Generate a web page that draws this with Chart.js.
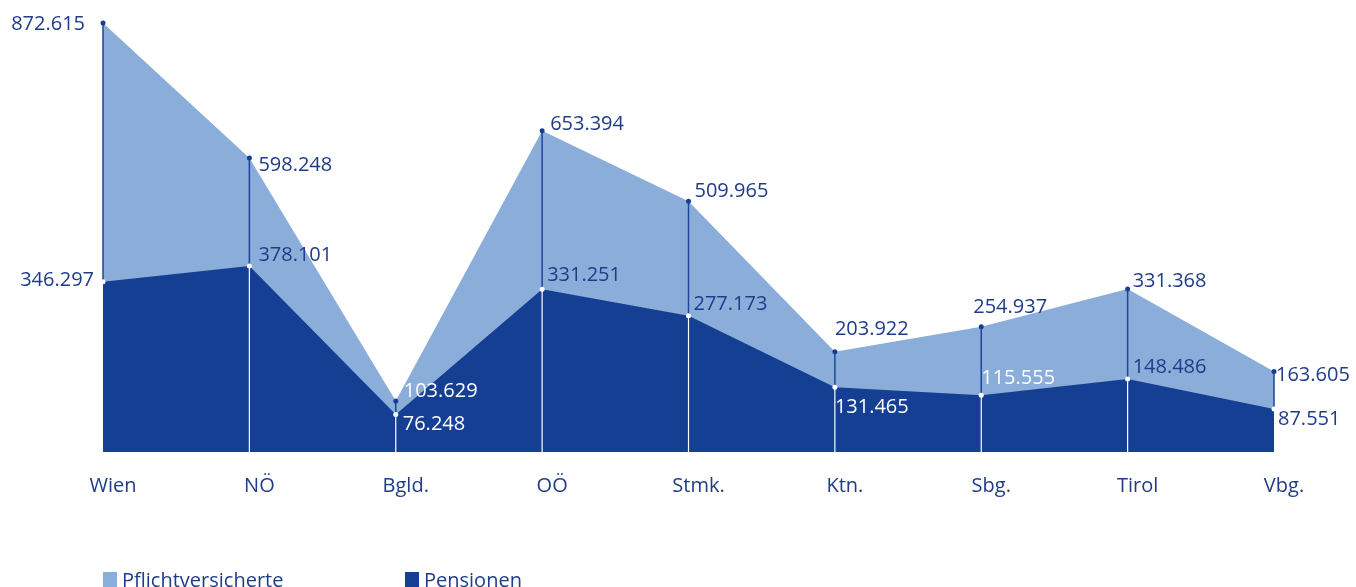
<!DOCTYPE html>
<html>
<head>
<meta charset="utf-8">
<script src="https://cdn.jsdelivr.net/npm/chart.js@4"></script>
<style>
  html, body { margin: 0; padding: 0; background: #fff; overflow: hidden; }
  #wrap { position: relative; width: 1356px; height: 587px; }
  #legend { position: absolute; left: 103px; top: 566px; font: 20px "Open Sans", sans-serif; color: #1f3c88; }
  #legend span.item { position: absolute; white-space: nowrap; display: flex; align-items: center; }
  #legend i { display: inline-block; width: 14px; height: 15px; margin-right: 5px; }
</style>
</head>
<body>
<div id="wrap">
  <canvas id="chart" width="1356" height="587"></canvas>
  <div id="legend"></div>
</div>
<script>
const regions = ["Wien", "NÖ", "Bgld.", "OÖ", "Stmk.", "Ktn.", "Sbg.", "Tirol", "Vbg."];
const pflichtversicherte = [872615, 598248, 103629, 653394, 509965, 203922, 254937, 331368, 163605];
const pensionen = [346297, 378101, 76248, 331251, 277173, 131465, 115555, 148486, 87551];
const yMax = 872615;

const lightBlue = "#8badda";
const darkBlue = "#143f93";
const textBlue = "#1f3c88";

// label placement relative to the point: [dx, dy, align, color]
const topLabelPos = [
  [-18, 1, "right", textBlue], [9, 7, "left", textBlue], [8, -10, "left", "#fff"],
  [8, -6, "left", textBlue], [6, -10, "left", textBlue], [0, -22, "left", textBlue],
  [-8, -19, "left", textBlue], [5, -8, "left", textBlue], [2, 4, "left", textBlue]
];
const lowLabelPos = [
  [-9, -1, "right", textBlue], [9, -11, "left", textBlue], [7, 10, "left", "#fff"],
  [5, -14, "left", textBlue], [5, -11, "left", textBlue], [0, 20, "left", "#fff"],
  [0, -17, "left", "#fff"], [5, -12, "left", textBlue], [4, 10, "left", textBlue]
];

function fmt(v) {
  return String(v).replace(/\B(?=(\d{3})+(?!\d))/g, ".");
}

const markers = {
  id: "markers",
  afterDatasetsDraw(chart) {
    const ctx = chart.ctx;
    const top = chart.getDatasetMeta(0).data;
    const low = chart.getDatasetMeta(1).data;
    const base = chart.scales.y.getPixelForValue(0);
    ctx.save();
    top.forEach((p, i) => {
      const q = low[i];
      ctx.strokeStyle = "#1d4599";
      ctx.lineWidth = 1.5;
      ctx.beginPath();
      ctx.moveTo(p.x, p.y);
      ctx.lineTo(q.x, q.y);
      ctx.stroke();
      if (i > 0 && i < top.length - 1) {
        ctx.strokeStyle = "#ffffff";
        ctx.lineWidth = 1.2;
        ctx.beginPath();
        ctx.moveTo(q.x, q.y);
        ctx.lineTo(q.x, base);
        ctx.stroke();
      }
      ctx.fillStyle = darkBlue;
      ctx.beginPath();
      ctx.arc(p.x, p.y, 2.5, 0, Math.PI * 2);
      ctx.fill();
      ctx.fillStyle = "#ffffff";
      ctx.beginPath();
      ctx.arc(q.x, q.y, 2.5, 0, Math.PI * 2);
      ctx.fill();
    });
    ctx.font = '20px "Open Sans", sans-serif';
    ctx.textBaseline = "middle";
    const drawLabels = (pts, vals, pos) => {
      pts.forEach((p, i) => {
        const [dx, dy, align, color] = pos[i];
        ctx.textAlign = align;
        ctx.fillStyle = color;
        ctx.fillText(fmt(vals[i]), p.x + dx, p.y + dy);
      });
    };
    drawLabels(top, pflichtversicherte, topLabelPos);
    drawLabels(low, pensionen, lowLabelPos);
    ctx.restore();
  }
};

const chart = new Chart(document.getElementById("chart"), {
  type: "line",
  data: {
    labels: regions,
    datasets: [
      {
        label: "Pflichtversicherte",
        data: pflichtversicherte,
        backgroundColor: lightBlue,
        borderWidth: 0,
        pointRadius: 0,
        fill: "origin",
        tension: 0,
        order: 2
      },
      {
        label: "Pensionen",
        data: pensionen,
        backgroundColor: darkBlue,
        borderWidth: 0,
        pointRadius: 0,
        fill: "origin",
        tension: 0,
        order: 1
      }
    ]
  },
  options: {
    responsive: false,
    animation: false,
    layout: { padding: { left: 103, right: 82, top: 23, bottom: 75 } },
    plugins: {
      legend: { display: false },
      tooltip: { enabled: false }
    },
    scales: {
      x: {
        grid: { display: false },
        border: { display: false },
        ticks: {
          color: textBlue,
          font: { family: "Open Sans", size: 20 },
          padding: 14,
          labelOffset: 10,
          autoSkip: false,
          maxRotation: 0
        }
      },
      y: {
        display: false,
        min: 0,
        max: yMax
      }
    }
  },
  plugins: [markers]
});

const legend = document.getElementById("legend");
const legendX = [0, 302];
chart.data.datasets.forEach((ds, i) => {
  const item = document.createElement("span");
  item.className = "item";
  item.style.left = legendX[i] + "px";
  item.innerHTML = '<i style="background:' + ds.backgroundColor + '"></i>' + ds.label;
  legend.appendChild(item);
});
</script>
</body>
</html>
